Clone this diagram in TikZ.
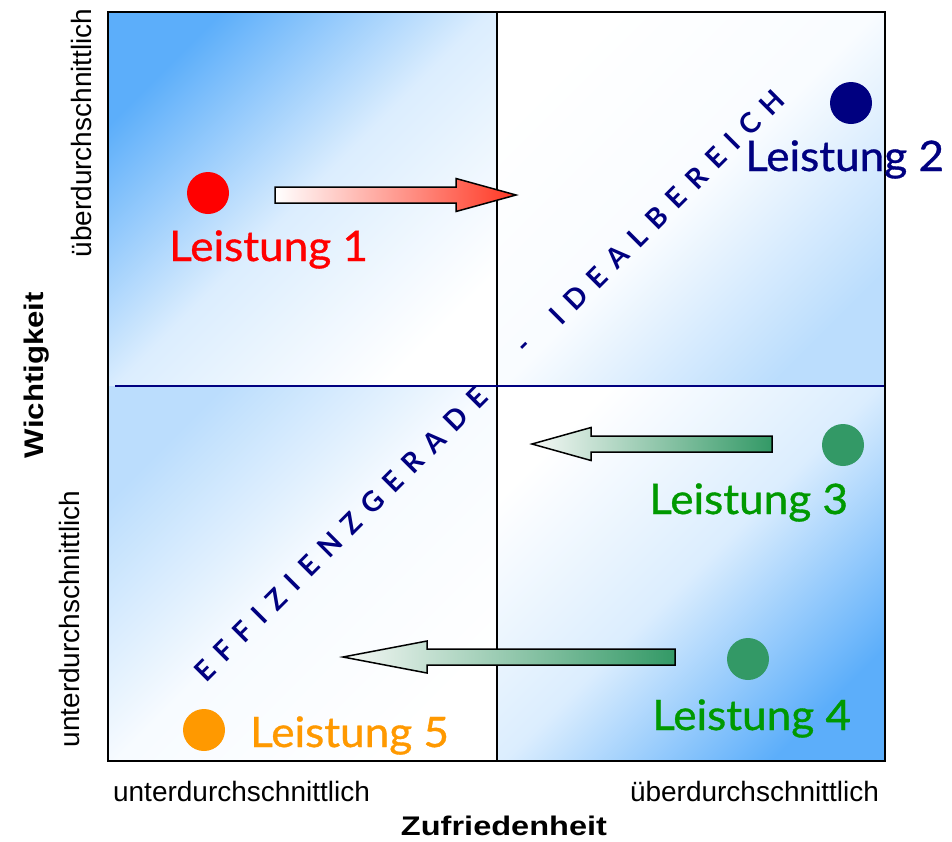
\documentclass[tikz,border=0pt]{standalone}
\usepackage{fontspec}
\usepackage{graphicx}
\setmainfont{Liberation Sans}
\newfontfamily\latofont{Lato}
\newfontfamily\latomed[FakeBold=0.8]{Lato}
\newcommand*\trk{\hspace{11pt}}
\definecolor{qblue}{RGB}{92,174,250}
\definecolor{navy}{RGB}{0,0,128}
\definecolor{dotgreen}{RGB}{51,153,102}
\definecolor{txtgreen}{RGB}{0,153,0}
\definecolor{orng}{RGB}{255,153,0}
\definecolor{arrred}{RGB}{255,55,35}
\definecolor{arrwhite}{RGB}{246,248,246}
\tikzset{
  dot/.style={circle, minimum size=42pt, inner sep=0pt},
  lbl/.style={anchor=base west, inner sep=0pt, xscale=1.05, font=\latomed\fontsize{42}{42}\selectfont},
  axlbl/.style={anchor=base, inner sep=0pt, font=\fontsize{28}{28}\selectfont},
  diag/.style={text=navy, inner sep=0pt, rotate=45, font=\latofont\bfseries\fontsize{28}{28}\selectfont},
  blockarrow/.style={draw=black, line width=1.5pt, line join=miter},
}
\begin{document}
\begin{tikzpicture}[x=1pt,y=-1pt]
\useasboundingbox (0,0) rectangle (952,841);
% quadrant shadings
\shade[top color=qblue, bottom color=white, middle color=qblue!22!white, shading angle=45] (108,12) rectangle (497,386);
\shade[top color=white, bottom color=qblue!42!white, middle color=qblue!4!white, shading angle=45] (497,12) rectangle (885,386);
\shade[top color=qblue!42!white, bottom color=white, middle color=qblue!5!white, shading angle=45] (108,386) rectangle (497,761);
\shade[top color=white, bottom color=qblue, middle color=qblue!22!white, shading angle=45] (497,386) rectangle (885,761);
% frame and axes
\coordinate (vtop) at (497,12);
\coordinate (vbot) at (497,761);
\coordinate (hleft) at (115,386);
\coordinate (hright) at (885,386);
\draw[black, line width=2pt] (vtop) -- (vbot);
\draw[navy, line width=2pt] (hleft) -- (hright);
\draw[black, line width=2.6pt] (108,12) rectangle (885,761);
% diagonal text
\node[diag] (effi) at (341,534) {E\trk F\trk F\trk I\trk Z\trk I\trk E\trk N\trk Z\trk G\trk E\trk R\trk A\trk D\trk E};
\node[diag] (dash) at (527,348) {-};
\node[diag] (ideal) at (667,207) {I\trk D\trk E\trk A\trk L\trk B\trk E\trk R\trk E\trk I\trk C\trk H};
% block arrows
\path[blockarrow, left color=white, right color=arrred]
  (275,187) -- (456,187) -- (456,178.5) -- (516,195) -- (456,211.5) -- (456,203) -- (275,203) -- cycle;
\path[blockarrow, left color=arrwhite, right color=dotgreen]
  (532,444) -- (591,427.5) -- (591,436) -- (772,436) -- (772,452) -- (591,452) -- (591,460.5) -- cycle;
\path[blockarrow, left color=arrwhite, right color=dotgreen]
  (343,657) -- (427,641) -- (427,649) -- (675,649) -- (675,665) -- (427,665) -- (427,673) -- cycle;
% dots
\node[dot, fill=red] (d1) at (208,193) {};
\node[dot, fill=navy] (d2) at (851,103) {};
\node[dot, fill=dotgreen] (d3) at (843,445) {};
\node[dot, fill=dotgreen] (d4) at (748,659) {};
\node[dot, fill=orng] (d5) at (204,730) {};
% labels
\node[lbl, text=red] (l1) at (169,261) {Leistung 1};
\node[lbl, text=navy] (l2) at (745,171) {Leistung 2};
\node[lbl, text=txtgreen] (l3) at (649,514) {Leistung 3};
\node[lbl, text=txtgreen] (l4) at (652,730) {Leistung 4};
\node[lbl, text=orng] (l5) at (250,747) {Leistung 5};
% axis labels
\node[axlbl] (xlo) at (241.5,801) {unterdurchschnittlich};
\node[axlbl] (xhi) at (754.5,801) {überdurchschnittlich};
\node[anchor=base, inner sep=0pt] (xtitle) at (504,835) {\resizebox{206pt}{19.5pt}{\bfseries Zufriedenheit}};
\node[axlbl, rotate=90] (yhi) at (91,133) {überdurchschnittlich};
\node[axlbl, rotate=90] (ylo) at (79,619) {unterdurchschnittlich};
\node[anchor=base, inner sep=0pt, rotate=90] (ytitle) at (43,375) {\resizebox{166pt}{19.5pt}{\bfseries Wichtigkeit}};
\end{tikzpicture}
\end{document}
